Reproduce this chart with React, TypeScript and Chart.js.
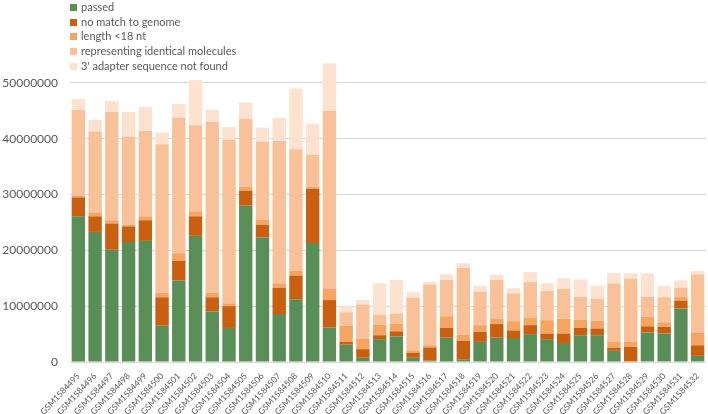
import React, { useEffect, useRef } from "react";
import { Chart, registerables } from "chart.js";

Chart.register(...registerables);

const categories = [
  "GSM1584495", "GSM1584496", "GSM1584497", "GSM1584498", "GSM1584499",
  "GSM1584500", "GSM1584501", "GSM1584502", "GSM1584503", "GSM1584504",
  "GSM1584505", "GSM1584506", "GSM1584507", "GSM1584508", "GSM1584509",
  "GSM1584510", "GSM1584511", "GSM1584512", "GSM1584513", "GSM1584514",
  "GSM1584515", "GSM1584516", "GSM1584517", "GSM1584518", "GSM1584519",
  "GSM1584520", "GSM1584521", "GSM1584522", "GSM1584523", "GSM1584524",
  "GSM1584525", "GSM1584526", "GSM1584527", "GSM1584528", "GSM1584529",
  "GSM1584530", "GSM1584531", "GSM1584532",
];

const passed = [
  26100000, 23300000, 20100000, 21500000, 21700000, 6500000, 14600000, 22600000,
  9050000, 6100000, 28000000, 22300000, 8600000, 11250000, 21300000, 6200000,
  3100000, 750000, 4100000, 4600000, 750000, 300000, 4350000, 500000, 3600000,
  4350000, 4300000, 5000000, 4100000, 3400000, 4800000, 4800000, 2000000, 0,
  5300000, 5100000, 9600000, 1100000,
];

const noMatch = [
  3400000, 2800000, 4700000, 2800000, 3700000, 5100000, 3500000, 3500000,
  2550000, 3900000, 2700000, 2300000, 4700000, 4250000, 9700000, 4900000,
  500000, 1550000, 700000, 900000, 900000, 2300000, 1750000, 3300000, 1800000,
  2450000, 1350000, 1600000, 1000000, 1700000, 1300000, 1200000, 550000, 2700000,
  1100000, 1200000, 1400000, 1900000,
];

const lengthShort = [
  300000, 700000, 600000, 300000, 700000, 800000, 1400000, 900000, 800000,
  500000, 700000, 900000, 800000, 800000, 400000, 2000000, 2900000, 1900000,
  1900000, 1400000, 450000, 400000, 2100000, 1100000, 1200000, 1000000, 1650000,
  1400000, 2400000, 2700000, 1500000, 1400000, 1150000, 900000, 1700000, 800000,
  700000, 2300000,
];

const identical = [
  15400000, 14500000, 19400000, 15800000, 15300000, 26600000, 24300000,
  15400000, 30600000, 29300000, 12200000, 14000000, 25500000, 21800000, 5700000,
  31900000, 2400000, 6100000, 1800000, 1800000, 9450000, 10900000, 6500000,
  12000000, 6000000, 6900000, 5000000, 6300000, 5200000, 5300000, 4100000,
  3900000, 10400000, 11300000, 3600000, 4500000, 1600000, 10400000,
];

const adapterNotFound = [
  1900000, 2100000, 2000000, 4400000, 4300000, 2100000, 2450000, 8100000,
  2200000, 2300000, 2900000, 2500000, 4150000, 10900000, 5600000, 8500000,
  1200000, 800000, 5600000, 6000000, 950000, 500000, 1000000, 800000, 1000000,
  900000, 900000, 1800000, 1400000, 1900000, 3100000, 2400000, 1800000, 1000000,
  4200000, 2000000, 1300000, 600000,
];

const yTickValues = [0, 10000000, 20000000, 30000000, 40000000, 50000000];

const seriesNames = [
  "passed",
  "no match to genome",
  "length <18 nt",
  "representing identical molecules",
  "3' adapter sequence not found",
];

const seriesColors = ["#5A8E57", "#C9600F", "#F5A462", "#F9C198", "#FCE2CF"];

const FONT = "Lato, 'Open Sans', sans-serif";
const TEXT = "#595959";

export default function App() {
  const canvasRef = useRef<HTMLCanvasElement | null>(null);

  useEffect(() => {
    document.body.style.margin = "0";
    const canvas = canvasRef.current;
    if (!canvas) return;
    const values = [passed, noMatch, lengthShort, identical, adapterNotFound];
    const chart = new Chart(canvas, {
      type: "bar",
      data: {
        labels: categories,
        datasets: values.map((arr, i) => ({
          label: seriesNames[i],
          data: arr,
          backgroundColor: seriesColors[i],
          borderWidth: 0,
          categoryPercentage: 1,
          barPercentage: 0.8,
        })),
      },
      options: {
        animation: false,
        responsive: false,
        maintainAspectRatio: false,
        layout: { padding: { top: 55, right: 2, left: 0, bottom: 0 } },
        plugins: {
          legend: { display: false },
          tooltip: { enabled: false },
        },
        scales: {
          x: {
            stacked: true,
            grid: { display: false },
            border: { display: false },
            ticks: {
              autoSkip: false,
              minRotation: 47,
              maxRotation: 47,
              padding: 1,
              color: TEXT,
              font: { family: FONT, size: 8.5 },
            },
            afterFit: (axis: any) => {
              axis.height = 52;
            },
          },
          y: {
            stacked: true,
            min: 0,
            max: 55000000,
            grid: { color: "#D9D9D9", drawTicks: false, lineWidth: 1 },
            border: { display: false },
            ticks: {
              padding: 12,
              color: TEXT,
              font: { family: FONT, size: 12 },
              callback: (v: any) => String(v),
            },
            afterBuildTicks: (axis: any) => {
              axis.ticks = yTickValues.map((v) => ({ value: v }));
            },
            afterFit: (axis: any) => {
              axis.width = 70;
            },
          },
        },
      },
    });
    return () => chart.destroy();
  }, []);

  return (
    <div style={{ position: "relative", width: 708, height: 414 }}>
      <canvas ref={canvasRef} width={708} height={414} style={{ display: "block" }} />
      <div
        style={{
          position: "absolute",
          left: 70,
          top: 0,
          fontFamily: FONT,
          fontSize: 11,
          color: TEXT,
          lineHeight: "14.7px",
        }}
      >
        {seriesNames.map((name, i) => (
          <div key={name} style={{ display: "flex", alignItems: "center", height: 14.7 }}>
            <span
              style={{
                display: "inline-block",
                width: 7,
                height: 7,
                background: seriesColors[i],
                marginRight: 4,
              }}
            />
            <span>{name}</span>
          </div>
        ))}
      </div>
    </div>
  );
}
